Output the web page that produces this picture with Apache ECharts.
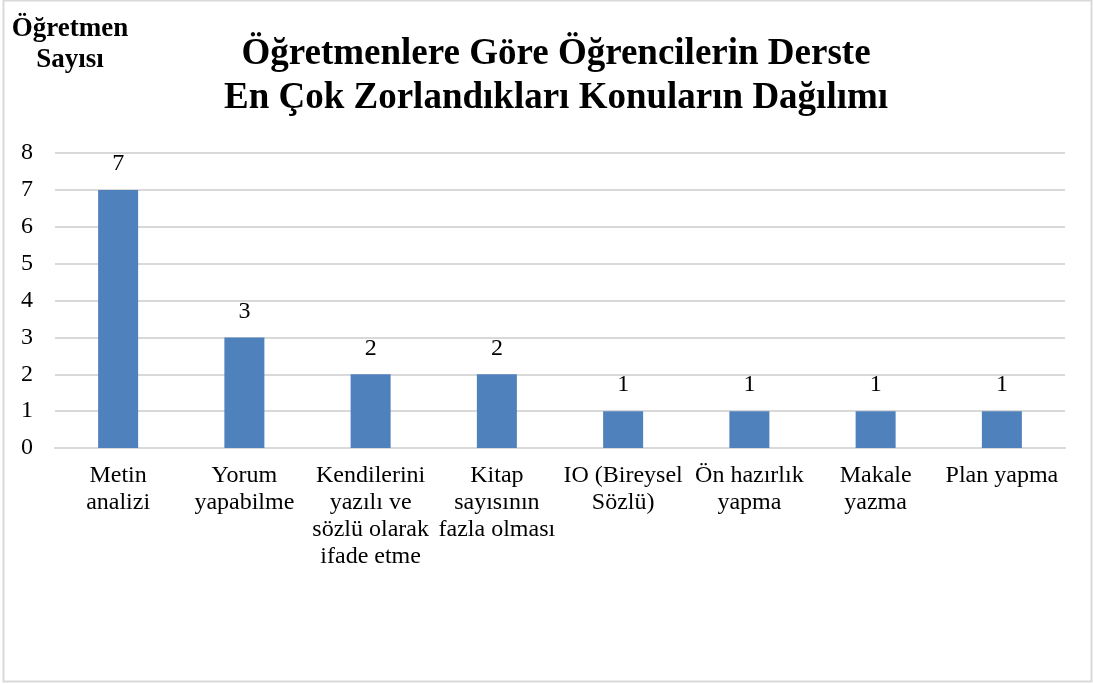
<!DOCTYPE html>
<html>
<head>
<meta charset="UTF-8" />
<title>Öğretmenlere Göre Öğrencilerin Derste En Çok Zorlandıkları Konuların Dağılımı</title>
<script src="https://cdn.jsdelivr.net/npm/echarts@6/dist/echarts.min.js"></script>
<style>
  body { margin: 0; background: #fff; }
  #main { width: 1093px; height: 684px; }
</style>
</head>
<body>
<div id="main"></div>
<script type="text/javascript">
    // kategoriler (eksen etiketleri, satır sonlarıyla)
    var konular = [
        'Metin\nanalizi',
        'Yorum\nyapabilme',
        'Kendilerini\nyazılı ve\nsözlü olarak\nifade etme',
        'Kitap\nsayısının\nfazla olması',
        'IO (Bireysel\nSözlü)',
        'Ön hazırlık\nyapma',
        'Makale\nyazma',
        'Plan yapma'
    ];
    // öğretmen sayıları
    var ogretmenSayisi = [7, 3, 2, 2, 1, 1, 1, 1];

    var yazi = '"Liberation Serif", "Times New Roman", serif';

    var myChart = echarts.init(document.getElementById('main'));

    var option = {
        backgroundColor: '#fff',
        animation: false,
        title: {
            text: 'Öğretmenlere Göre Öğrencilerin Derste\nEn Çok Zorlandıkları Konuların Dağılımı',
            left: 551,
            top: 27,
            textAlign: 'center',
            textStyle: {
                fontFamily: yazi,
                fontSize: 37,
                fontWeight: 'bold',
                color: '#000',
                lineHeight: 44
            }
        },
        graphic: [
            {
                type: 'rect',
                shape: { x: 3.5, y: 0.5, width: 1088, height: 681 },
                style: { fill: 'none', stroke: '#d9d9d9', lineWidth: 2 },
                silent: true
            },
            {
                type: 'text',
                x: 70,
                y: 14,
                style: {
                    text: 'Öğretmen\nSayısı',
                    align: 'center',
                    font: 'bold 27px ' + yazi,
                    fill: '#000',
                    lineHeight: 31
                }
            }
        ],
        grid: {
            left: 55,
            right: 28,
            top: 153,
            bottom: 236,
            containLabel: false
        },
        xAxis: {
            type: 'category',
            data: konular,
            axisLine: { lineStyle: { color: '#d9d9d9', width: 2 } },
            axisTick: { show: false },
            axisLabel: {
                interval: 0,
                margin: 14,
                fontFamily: yazi,
                fontSize: 24,
                color: '#000',
                lineHeight: 27,
                align: 'center',
                verticalAlign: 'top'
            }
        },
        yAxis: {
            type: 'value',
            min: 0,
            max: 8,
            interval: 1,
            axisLine: { show: false },
            axisTick: { show: false },
            splitLine: { lineStyle: { color: '#d9d9d9', width: 2 } },
            axisLabel: {
                margin: 22,
                fontFamily: yazi,
                fontSize: 24,
                color: '#000'
            }
        },
        series: [{
            type: 'bar',
            data: ogretmenSayisi,
            barWidth: 40,
            itemStyle: { color: '#4f81bd' },
            label: {
                show: true,
                position: 'top',
                distance: 14,
                fontFamily: yazi,
                fontSize: 24,
                color: '#000'
            }
        }]
    };

    myChart.setOption(option);
</script>
</body>
</html>
